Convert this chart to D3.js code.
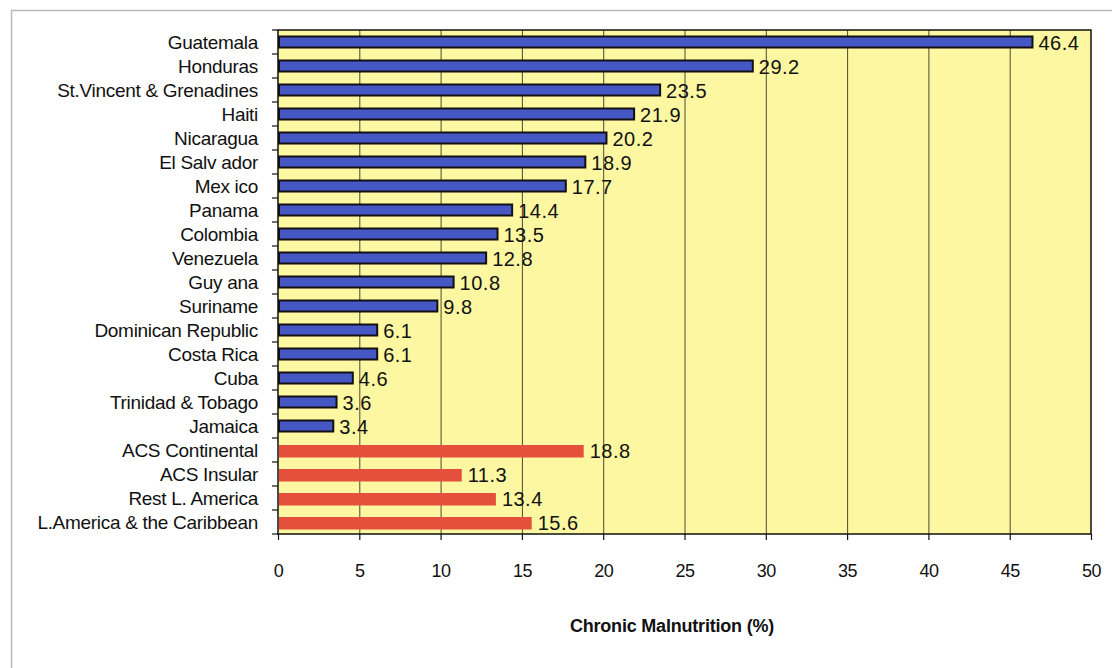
<!DOCTYPE html>
<html><head><meta charset="utf-8">
<script src="https://cdn.jsdelivr.net/npm/d3@7"></script>
<style>body{margin:0;background:#fff}svg{display:block}text{font-family:"Liberation Sans",Arial,sans-serif}</style>
</head><body>
<svg id="c" width="1112" height="668"></svg>
<script>
const categories = ["Guatemala","Honduras","St.Vincent & Grenadines","Haiti","Nicaragua","El Salv ador","Mex ico","Panama","Colombia","Venezuela","Guy ana","Suriname","Dominican Republic","Costa Rica","Cuba","Trinidad & Tobago","Jamaica","ACS Continental","ACS Insular","Rest L. America","L.America & the Caribbean"];
const values = [46.4,29.2,23.5,21.9,20.2,18.9,17.7,14.4,13.5,12.8,10.8,9.8,6.1,6.1,4.6,3.6,3.4,18.8,11.3,13.4,15.6];
const groups = ["country","country","country","country","country","country","country","country","country","country","country","country","country","country","country","country","country","aggregate","aggregate","aggregate","aggregate"];
const xTicks = [0,5,10,15,20,25,30,35,40,45,50];
const xTitle = "Chronic Malnutrition (%)";

const svg = d3.select("#c");
const L = 278, R = 1091, T = 30, B = 534;
const x = d3.scaleLinear().domain([0,50]).range([L,R]);
const y = d3.scaleBand().domain(categories).range([T,B]).paddingInner(0).paddingOuter(0);

// outer frame
svg.append("path").attr("d","M11.5,668 V10.5 H1112").attr("fill","none").attr("stroke","#b8b8b8").attr("stroke-width",1.5);

// plot bg
svg.append("rect").attr("x",L).attr("y",T).attr("width",R-L).attr("height",B-T).attr("fill","#fcf7a0");

// gridlines
svg.append("g").selectAll("line").data(xTicks.slice(1,-1)).join("line")
  .attr("x1",d=>x(d)+0.5).attr("x2",d=>x(d)+0.5).attr("y1",T).attr("y2",B)
  .attr("stroke","#4a4a30").attr("stroke-width",1);

// bars
const data = categories.map((c,i)=>({c, v:values[i], g:groups[i]}));
const bh = 11;
svg.append("g").selectAll("rect").data(data).join("rect")
  .attr("x",x(0)+1)
  .attr("y",d=> y(d.c)+y.bandwidth()/2 - bh/2 + (d.g==="country"?0:0.5))
  .attr("width",d=>x(d.v)-x(0)-1)
  .attr("height",d=> d.g==="country"? bh : 12.5)
  .attr("fill",d=>d.g==="country"?"#4657c6":"#e5503c")
  .attr("stroke",d=>d.g==="country"?"#111":"none")
  .attr("stroke-width",2);

// plot border
svg.append("rect").attr("x",L).attr("y",T).attr("width",R-L).attr("height",B-T).attr("fill","none").attr("stroke","#111").attr("stroke-width",1.5);

// value labels
svg.append("g").selectAll("text").data(data).join("text")
  .attr("x",d=>x(d.v)+6).attr("y",d=>y(d.c)+y.bandwidth()/2+7.5)
  .attr("font-size",20).attr("letter-spacing",0.5).attr("fill","#111")
  .text(d=>d.v.toFixed(1));

// y axis ticks and labels
const yb = [...categories.map(c=>y(c)), B];
svg.append("g").selectAll("line").data(yb).join("line")
  .attr("x1",272).attr("x2",L).attr("y1",d=>d).attr("y2",d=>d)
  .attr("stroke","#111").attr("stroke-width",1.2);
svg.append("g").selectAll("text").data(categories).join("text")
  .attr("x",258).attr("y",c=>y(c)+y.bandwidth()/2+6.5)
  .attr("text-anchor","end").attr("font-size",19).attr("letter-spacing",-0.3).attr("fill","#111")
  .text(c=>c);

// x axis
const xa = svg.append("g").attr("transform",`translate(0,${B})`)
  .call(d3.axisBottom(x).tickValues(xTicks).tickSize(6).tickPadding(24).tickFormat(d3.format("d")));
xa.select(".domain").remove();
xa.selectAll("line").attr("stroke","#111").attr("stroke-width",1.2);
xa.selectAll("text").attr("font-size",18).attr("letter-spacing",-0.5).attr("fill","#111").attr("font-family","'Liberation Sans',Arial,sans-serif");

svg.append("text").attr("x",672).attr("y",632).attr("text-anchor","middle")
  .attr("font-size",18).attr("letter-spacing",-0.2).attr("font-weight","bold").attr("fill","#111").text(xTitle);
</script>
</body></html>
